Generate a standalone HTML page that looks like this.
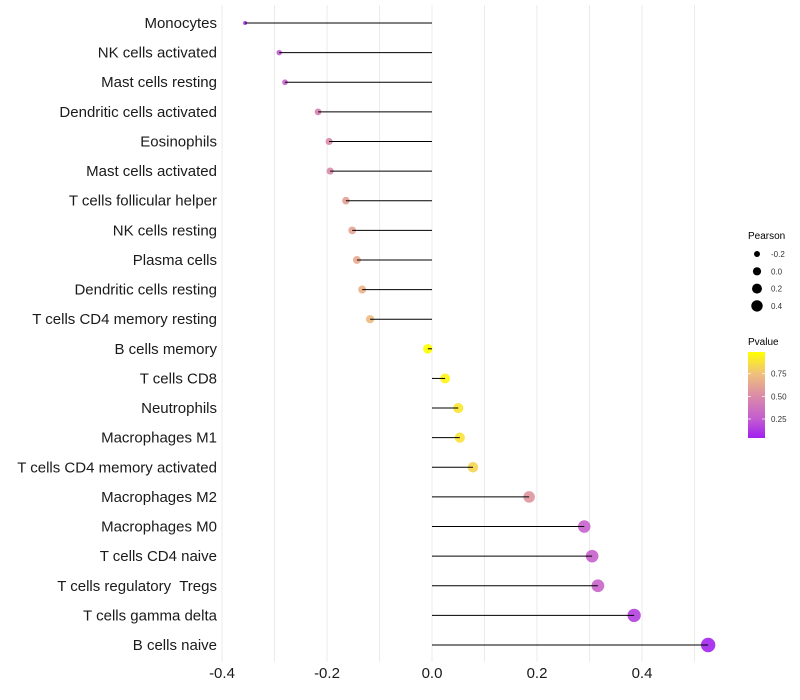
<!DOCTYPE html>
<html><head><meta charset="utf-8"><style>
body{margin:0;background:#fff;}
svg{display:block;font-family:"Liberation Sans",sans-serif;}
text{white-space:pre;}
</style></head><body>
<svg id="chart" width="800" height="700"></svg>
<script>
const categories=["Monocytes","NK cells activated","Mast cells resting","Dendritic cells activated","Eosinophils","Mast cells activated","T cells follicular helper","NK cells resting","Plasma cells","Dendritic cells resting","T cells CD4 memory resting","B cells memory","T cells CD8","Neutrophils","Macrophages M1","T cells CD4 memory activated","Macrophages M2","Macrophages M0","T cells CD4 naive","T cells regulatory  Tregs","T cells gamma delta","B cells naive"];
const pearson=[-0.356,-0.291,-0.280,-0.217,-0.196,-0.194,-0.164,-0.152,-0.143,-0.133,-0.118,-0.008,0.025,0.050,0.053,0.078,0.185,0.290,0.305,0.316,0.385,0.526];
const pvalue=[0.10,0.25,0.27,0.45,0.50,0.50,0.60,0.62,0.65,0.68,0.72,0.99,0.95,0.90,0.88,0.83,0.55,0.27,0.27,0.29,0.15,0.05];
const xTicks=[-0.4,-0.2,0.0,0.2,0.4];
const xTickLabels=["-0.4","-0.2","0.0","0.2","0.4"];
const gridVals=[-0.4,-0.3,-0.2,-0.1,0.0,0.1,0.2,0.3,0.4,0.5];
const sizeLegendVals=[-0.2,0.0,0.2,0.4];
const colorLegendVals=[0.25,0.50,0.75];

const NS="http://www.w3.org/2000/svg";
const svg=document.getElementById('chart');
function x(v){return 432+v*525;}
function y(i){return 23+i*(622/21);}
function r(v){return Math.sqrt(Math.max(2,23.3+54.2*v));}
const cStops=[[0.04,[160,32,240]],[0.25,[196,92,208]],[0.5,[218,138,168]],[0.75,[240,192,124]],[0.99,[255,255,0]]];
function col(p){p=Math.max(0.04,Math.min(0.99,p));
 for(let k=0;k<cStops.length-1;k++){const [p0,a]=cStops[k],[p1,b]=cStops[k+1];
  if(p<=p1){const t=(p-p0)/(p1-p0);
   return `rgb(${Math.round(a[0]+(b[0]-a[0])*t)},${Math.round(a[1]+(b[1]-a[1])*t)},${Math.round(a[2]+(b[2]-a[2])*t)})`;}}
 return 'rgb(255,255,0)';}
function mk(tag,attrs,parent){const e=document.createElementNS(NS,tag);for(const k in attrs)e.setAttribute(k,attrs[k]);(parent||svg).appendChild(e);return e;}

const grid=mk('g',{});


gridVals.forEach(v=>{const l=mk('line',{x1:x(v),x2:x(v),y1:5,y2:662,stroke:'#ebebeb','stroke-width':1},grid);
 
 });

categories.forEach((c,i)=>{
 const g=mk('g',{});
 
 
 const pt=mk('circle',{cx:x(pearson[i]),cy:y(i),r:r(pearson[i]),fill:col(pvalue[i]),opacity:0.9},g);
 
 
 const ln=mk('line',{x1:x(0),x2:x(pearson[i]),y1:y(i),y2:y(i),stroke:'#000','stroke-width':1},g);
 
 
 const t=mk('text',{x:217,y:y(i)+5,'text-anchor':'end','font-size':15,fill:'#1a1a1a'});
 t.textContent=c;
 
 
});
xTicks.forEach((v,i)=>{const t=mk('text',{x:x(v),y:678,'text-anchor':'middle','font-size':15,fill:'#1a1a1a'});
 t.textContent=xTickLabels[i];
 
 });

const sl=mk('g',{});


const st=mk('text',{x:748,y:239,'font-size':10,fill:'#000'},sl);st.textContent='Pearson';


sizeLegendVals.forEach((v,i)=>{const cy=254+i*17.3;
 const c=mk('circle',{cx:757,cy:cy,r:r(v)*0.85,fill:'#000'},sl);
 
 
 const t=mk('text',{x:771,y:cy+3,'font-size':8,fill:'#333'},sl);t.textContent=v.toFixed(1);
 
 });

const cl=mk('g',{});


const ct=mk('text',{x:748,y:345,'font-size':10,fill:'#000'},cl);ct.textContent='Pvalue';


const defs=mk('defs',{});
const lg=mk('linearGradient',{id:'pg',x1:0,y1:1,x2:0,y2:0},defs);
cStops.forEach(s=>mk('stop',{offset:(s[0]-0.04)/0.95,'stop-color':col(s[0])},lg));
const bar=mk('rect',{x:748,y:352,width:17,height:86,fill:'url(#pg)'},cl);


colorLegendVals.forEach(v=>{const yy=438-(v-0.04)/(0.99-0.04)*86;
 mk('line',{x1:748,x2:751,y1:yy,y2:yy,stroke:'#fff','stroke-width':0.7},cl);
 mk('line',{x1:762,x2:765,y1:yy,y2:yy,stroke:'#fff','stroke-width':0.7},cl);
 const t=mk('text',{x:771,y:yy+3,'font-size':8,fill:'#333'},cl);t.textContent=v.toFixed(2);
 
 });
</script>
</body></html>
